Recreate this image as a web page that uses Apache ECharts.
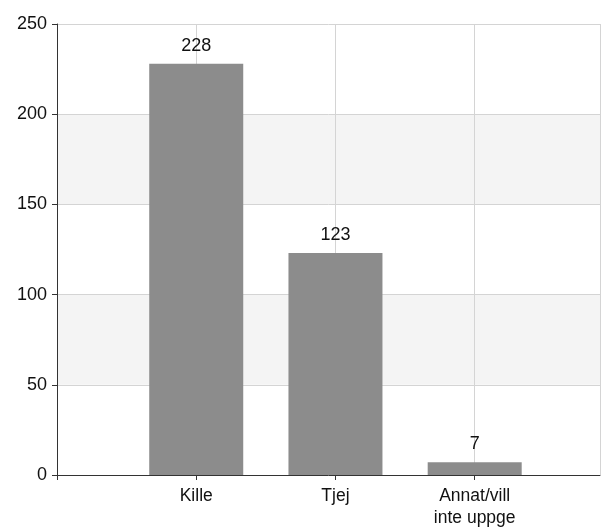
<!DOCTYPE html>
<html><head><meta charset="utf-8">
<script src="https://cdn.jsdelivr.net/npm/echarts@6/dist/echarts.min.js"></script>
<style>html,body{margin:0;padding:0;background:#fff}#c{width:604px;height:531px}</style>
</head><body><div id="c"></div>
<script>
const categories = ['Kille', 'Tjej', 'Annat/vill\ninte uppge'];
const values = [228, 123, 7];
const yTicks = [0, 50, 100, 150, 200, 250];

const chart = echarts.init(document.getElementById('c'), null, {renderer: 'canvas'});
const font = 'Liberation Sans, Arial, sans-serif';
chart.setOption({
  animation: false,
  backgroundColor: '#fff',
  grid: {left: 57, right: 4, top: 24, bottom: 56, containLabel: false},
  xAxis: {
    type: 'value', min: 0, max: 3.9, interval: 1,
    axisLine: {show: true, lineStyle: {color: '#333', width: 1}},
    axisTick: {show: true, length: 5, lineStyle: {color: '#333'}},
    axisLabel: {
      showMaxLabel: false, color: '#111', fontSize: 17.5, fontFamily: font, margin: 10, lineHeight: 22,
      formatter: v => (v >= 1 && v <= categories.length && Number.isInteger(v)) ? categories[v - 1] : ''
    },
    splitLine: {show: true, lineStyle: {color: '#d4d4d4', width: 1}}
  },
  yAxis: {
    type: 'value', min: yTicks[0], max: yTicks[yTicks.length - 1], interval: 50,
    axisLine: {show: true, lineStyle: {color: '#333', width: 1}},
    axisTick: {show: true, length: 5, lineStyle: {color: '#333'}},
    axisLabel: {color: '#111', fontSize: 18, fontFamily: font, margin: 10},
    splitLine: {show: true, lineStyle: {color: '#d4d4d4', width: 1}},
    splitArea: {show: true, areaStyle: {color: ['#ffffff', '#f4f4f4']}}
  },
  series: [{
    type: 'bar',
    barWidth: 94,
    data: values.map((v, i) => [i + 1, v]),
    itemStyle: {color: '#8c8c8c'},
    label: {show: true, position: 'top', distance: 9, color: '#111', fontSize: 18, fontFamily: font,
      formatter: p => p.value[1]}
  }]
});
</script></body></html>
